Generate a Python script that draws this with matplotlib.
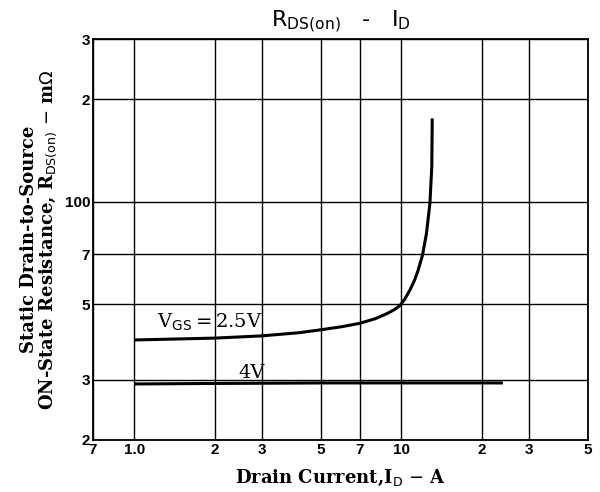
import matplotlib
matplotlib.use('Agg')
import matplotlib.pyplot as plt
from matplotlib.ticker import FixedLocator, NullLocator, FixedFormatter

# VGS = 2.5V curve (ID in A, RDS(on) in mOhm)
id_25 = [1.0, 2.0, 3.0, 4.17, 5.1, 6.0, 7.0, 8.0, 8.8, 9.4, 9.88, 10.3, 10.77, 11.2, 11.56,
         12.0, 12.42, 12.79, 13.0, 13.05]
r_25 = [39.3, 39.8, 40.4, 41.3, 42.2, 43.0, 44.0, 45.4, 46.9, 48.2, 49.6, 51.8, 55.1, 58.8, 63.0,
        69.7, 80.8, 98.9, 126.6, 175.5]

# VGS = 4V curve
id_4 = [1.0, 2.0, 5.0, 10.0, 24.0]
r_4 = [29.2, 29.3, 29.4, 29.4, 29.4]

x_ticks = [0.7, 1.0, 2, 3, 5, 7, 10, 20, 30, 50]
x_labels = ['7', '1.0', '2', '3', '5', '7', '10', '2', '3', '5']
y_ticks = [20, 30, 50, 70, 100, 200, 300]
y_labels = ['2', '3', '5', '7', '100', '2', '3']

fig = plt.figure(figsize=(6, 4.92), dpi=100)
ax = fig.add_axes([0.155, 0.1057, 0.825, 0.815])

ax.plot(id_25, r_25, color='black', lw=2.2, solid_capstyle='butt')
ax.plot(id_4, r_4, color='black', lw=2.2, solid_capstyle='butt')

ax.set_xscale('log')
ax.set_yscale('log')
ax.set_xlim(0.7, 50)
ax.set_ylim(20, 300)

ax.xaxis.set_major_locator(FixedLocator(x_ticks))
ax.xaxis.set_major_formatter(FixedFormatter(x_labels))
ax.xaxis.set_minor_locator(NullLocator())
ax.yaxis.set_major_locator(FixedLocator(y_ticks))
ax.yaxis.set_major_formatter(FixedFormatter(y_labels))
ax.yaxis.set_minor_locator(NullLocator())
ax.tick_params(axis='both', length=0, labelsize=11, pad=2)
for t in ax.get_xticklabels() + ax.get_yticklabels():
    t.set_fontweight('bold')
    t.set_family('Liberation Sans')

ax.grid(True, color='black', lw=1.0)
for s in ax.spines.values():
    s.set_linewidth(1.3)

ax.text(1.22, 42.6, r'V$_{\mathrm{GS}}$$=$2.5V', fontsize=14, family='DejaVu Serif')
ax.text(2.45, 30.3, '4V', fontsize=14, family='DejaVu Serif')

ax.set_title(r'R$_{\mathrm{DS(on)}}$   -   I$_{\mathrm{D}}$', fontsize=16, family='DejaVu Sans', pad=9)
ax.set_xlabel(r'Drain Current,I$_{\mathrm{D}}$ $-$ A', fontsize=13, family='DejaVu Serif', fontweight='bold', labelpad=8)
ax.set_ylabel('Static Drain-to-Source\n' + r'ON-State Resistance, R$_{\mathrm{DS(on)}}$ $-$ m$\Omega$',
              fontsize=13, family='DejaVu Serif', fontweight='bold', labelpad=4, linespacing=1.0)

fig.savefig('out.png', dpi=100)
